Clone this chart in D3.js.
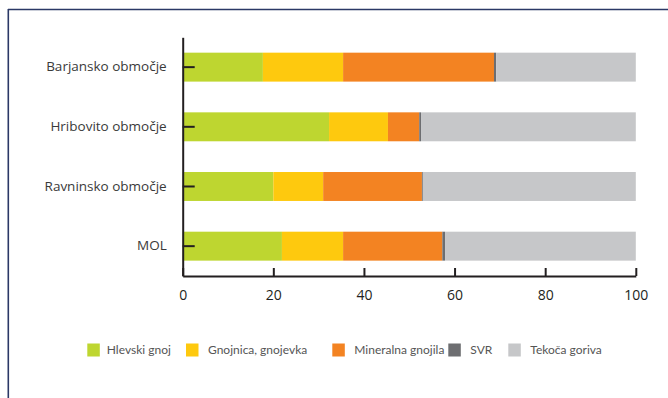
<!DOCTYPE html>
<html>
<head>
<meta charset="utf-8">
<script src="https://cdn.jsdelivr.net/npm/d3@7/dist/d3.min.js"></script>
<style>
  html, body { margin: 0; padding: 0; background: #fff; }
  svg { display: block; }
</style>
</head>
<body>
<svg id="chart" width="668" height="398"></svg>
<script>
// Regions (top to bottom)
const regions = ["Barjansko območje", "Hribovito območje", "Ravninsko območje", "MOL"];

// Share of each source (%), per region
const hlevskiGnoj      = [17.7, 32.3, 20.0, 21.9];
const gnojnica         = [17.7, 13.0, 11.0, 13.5];
const mineralnaGnojila = [33.3,  6.9, 21.8, 21.9];
const svr              = [ 0.5,  0.4,  0.2,  0.6];
const tekocaGoriva     = [30.8, 47.4, 47.0, 42.1];

const seriesNames = ["Hlevski gnoj", "Gnojnica, gnojevka", "Mineralna gnojila", "SVR", "Tekoča goriva"];
const seriesColors = ["#bed630", "#fec90e", "#f38322", "#6d6e71", "#c6c7c9"];
const xTicks = [0, 20, 40, 60, 80, 100];

const seriesValues = [hlevskiGnoj, gnojnica, mineralnaGnojila, svr, tekocaGoriva];
const rows = regions.map((r, i) => {
  const row = { region: r };
  seriesNames.forEach((s, k) => { row[s] = seriesValues[k][i]; });
  return row;
});

const svg = d3.select("#chart");

// Frame lines along top and left edge
svg.append("line").attr("x1", 8).attr("x2", 668).attr("y1", 9.5).attr("y2", 9.5)
  .attr("stroke", "#2b3866").attr("stroke-width", 1.6);
svg.append("line").attr("x1", 8.3).attr("x2", 8.3).attr("y1", 9).attr("y2", 398)
  .attr("stroke", "#2b3866").attr("stroke-width", 1.6);

const x = d3.scaleLinear().domain([0, 100]).range([182.7, 635.8]);
const y = d3.scaleBand().domain(regions).range([37.3, 276])
  .paddingInner(0.515).paddingOuter(0.2575);

const stack = d3.stack().keys(seriesNames);
const layers = stack(rows);

const g = svg.append("g");
g.selectAll("g.layer")
  .data(layers)
  .join("g")
  .attr("class", "layer")
  .attr("fill", (d, i) => seriesColors[i])
  .selectAll("rect")
  .data(d => d)
  .join("rect")
  .attr("x", d => x(d[0]))
  .attr("width", d => x(d[1]) - x(d[0]))
  .attr("y", d => y(d.data.region))
  .attr("height", y.bandwidth());

// X axis (ticks pointing up)
const xAxis = svg.append("g")
  .attr("transform", "translate(0,276)")
  .call(d3.axisBottom(x).tickValues(xTicks).tickSize(-8).tickSizeOuter(0).tickPadding(14));
xAxis.select(".domain").attr("stroke", "#231f20").attr("stroke-width", 2);
xAxis.selectAll(".tick line").attr("stroke", "#231f20").attr("stroke-width", 2);
xAxis.selectAll(".tick text")
  .style("font-family", "'Open Sans', sans-serif")
  .style("font-size", "14px")
  .attr("fill", "#231f20");

// Y axis (ticks pointing right, over the bars)
const yAxis = svg.append("g")
  .attr("transform", "translate(182.7,0)")
  .call(d3.axisLeft(y).tickSize(-12).tickSizeOuter(0).tickPadding(15));
yAxis.select(".domain").attr("stroke", "#231f20").attr("stroke-width", 2);
yAxis.selectAll(".tick line").attr("stroke", "#231f20").attr("stroke-width", 2);
yAxis.selectAll(".tick text")
  .attr("x", -16)
  .style("font-family", "'Open Sans', sans-serif")
  .style("font-size", "13.5px")
  .attr("fill", "#3a3a3a");

// Legend
const legendX = [87.3, 186, 332.3, 448.3, 508.3];
const legend = svg.append("g").attr("transform", "translate(0,343.5)");
const items = legend.selectAll("g")
  .data(seriesNames)
  .join("g")
  .attr("transform", (d, i) => `translate(${legendX[i]},0)`);
items.append("rect")
  .attr("width", 12.5).attr("height", 13)
  .attr("fill", (d, i) => seriesColors[i]);
items.append("text")
  .attr("x", (d, i) => i === 0 ? 19.5 : 22)
  .attr("y", 6.5)
  .attr("dy", "0.35em")
  .style("font-family", "Lato, sans-serif")
  .style("font-size", "12px")
  .attr("fill", "#555")
  .text(d => d);
</script>
</body>
</html>
